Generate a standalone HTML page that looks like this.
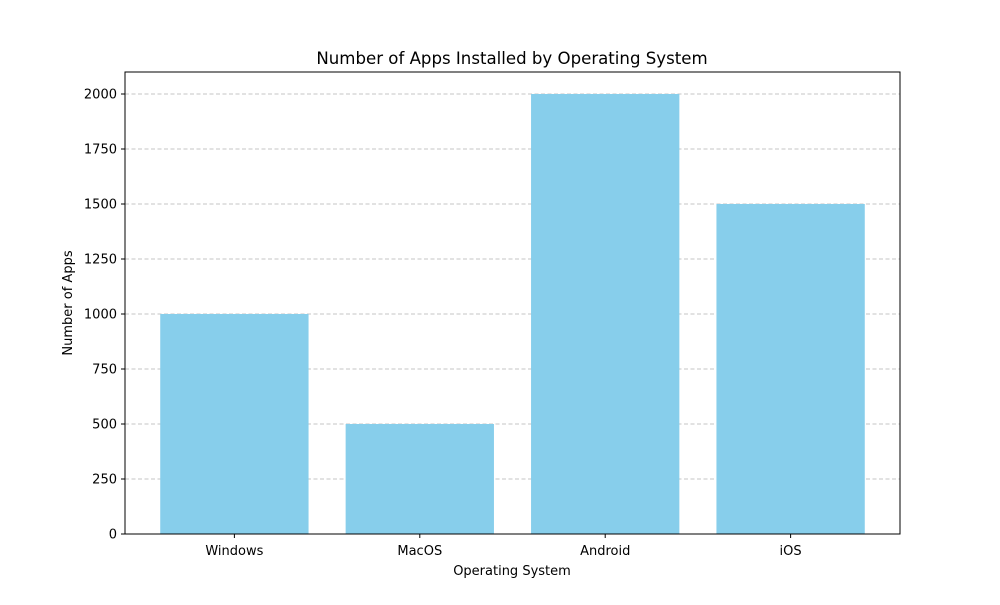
<!DOCTYPE html>
<html><head><meta charset="utf-8"><style>
body{margin:0;background:#fff;}
svg text{font-family:"DejaVu Sans","Liberation Sans",sans-serif;fill:#000;}
</style></head><body>
<svg id="chart" width="1000" height="600" xmlns="http://www.w3.org/2000/svg">
<rect width="1000" height="600" fill="#fff"/>
<text x="512" y="64" font-size="16.6" text-anchor="middle">Number of Apps Installed by Operating System</text>
<g id="grid"></g><g id="bars"></g><g id="ticks"></g>
<rect x="125" y="72" width="775" height="462" fill="none" stroke="#000" stroke-width="1"/>
<text x="512" y="575" font-size="13" text-anchor="middle">Operating System</text>
<text transform="translate(72,303) rotate(-90)" font-size="13" text-anchor="middle">Number of Apps</text>
</svg>
<script>
const categories = ["Windows","MacOS","Android","iOS"];
const values = [1000,500,2000,1500];
const yTicks = [0,250,500,750,1000,1250,1500,1750,2000];
const L=125,R=900,T=72,B=534,yMax=2100,xMin=-0.59,xMax=3.59;
const ns="http://www.w3.org/2000/svg";
const y=v=>B-(v/yMax)*(B-T);
const x=i=>L+(i-xMin)/(xMax-xMin)*(R-L);
const bw=0.8*(R-L)/(xMax-xMin);
function mk(tag,attrs,parent){const e=document.createElementNS(ns,tag);for(const k in attrs)e.setAttribute(k,attrs[k]);document.getElementById(parent).appendChild(e);return e;}
yTicks.forEach(t=>{
  const g=mk("line",{x1:L,x2:R,y1:y(t),y2:y(t),stroke:"#c4c4c4","stroke-width":0.9,"stroke-dasharray":"4,2.5"},"grid");
  
  
  const tk=mk("line",{x1:L-4,x2:L,y1:y(t),y2:y(t),stroke:"#000"},"ticks");
  
  
  const tx=mk("text",{x:L-8,y:y(t)+4.5,"font-size":13,"text-anchor":"end"},"ticks");
  tx.textContent=t;
  
  
});
categories.forEach((c,i)=>{
  const b=mk("rect",{x:x(i)-bw/2,y:y(values[i]),width:bw,height:B-y(values[i]),fill:"#87ceeb"},"bars");
  
  
  const tk=mk("line",{x1:x(i),x2:x(i),y1:B,y2:B+4,stroke:"#000"},"ticks");
  
  
  const tx=mk("text",{x:x(i),y:B+21,"font-size":13,"text-anchor":"middle"},"ticks");
  tx.textContent=c;
  
  
});
</script>
</body></html>
